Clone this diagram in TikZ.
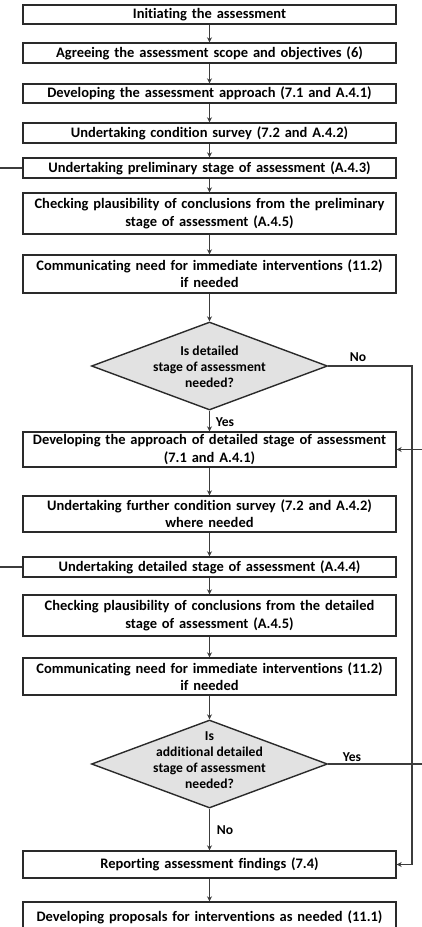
\documentclass[tikz,border=0pt]{standalone}
\usepackage{fontspec}
\setmainfont{Carlito}[Ligatures={NoCommon}]
\usetikzlibrary{shapes.geometric,arrows.meta}
\definecolor{boxline}{HTML}{2A2A2A}
\definecolor{flowline}{HTML}{3C3C3C}
\definecolor{askfill}{HTML}{E2E2E2}
\tikzset{
    box/.style={draw=boxline,line width=1.4pt,rectangle,align=center,text width=365pt,
        inner xsep=4pt,inner ysep=0pt,font=\fontsize{14.5}{17.3}\selectfont\bfseries},
    decision/.style={draw=boxline,line width=1.4pt,diamond,fill=askfill,aspect=2.68,
        inner sep=0pt,minimum width=236pt,minimum height=88pt},
    asktext/.style={align=center,inner sep=0pt,font=\fontsize{13.6}{16}\selectfont\bfseries},
    answer/.style={inner sep=0pt,font=\fontsize{13.6}{15}\selectfont\bfseries},
    flow/.style={draw=flowline,line width=1.5pt,-{Stealth[length=5pt,width=5pt]}},
    line/.style={draw=flowline,line width=1.5pt}
}
\begin{document}
\begin{tikzpicture}[x=1pt,y=-1pt]
        \useasboundingbox (0,0) rectangle (421,927);

        \node[box,minimum height=19pt] (init) at (209.5,14.5) {Initiating the assessment};
        \node[box,minimum height=20pt] (agree) at (209.5,53) {Agreeing the assessment scope and objectives (6)};
        \node[box,minimum height=19pt] (approach) at (209.5,93.5) {Developing the assessment approach (7.1 and A.4.1)};
        \node[box,minimum height=20pt] (survey) at (209.5,133) {Undertaking condition survey (7.2 and A.4.2)};
        \node[box,minimum height=20pt] (prelim) at (209.5,168) {Undertaking preliminary stage of assessment (A.4.3)};
        \node[box,minimum height=41pt] (checkprelim) at (209.5,213.5) {Checking plausibility of conclusions from the preliminary\\stage of assessment (A.4.5)};
        \node[box,minimum height=38pt] (commone) at (209.5,274) {Communicating need for immediate interventions (11.2)\\if needed};

        \node[decision] (askdetail) at (209.5,366) {};
        \node[asktext] (askdetailtxt) at (209.5,367) {Is detailed\\stage of assessment\\needed?};

        \node[box,minimum height=35pt] (detapproach) at (209.5,449.5) {Developing the approach of detailed stage of assessment\\(7.1 and A.4.1)};
        \node[box,minimum height=36pt] (further) at (209.5,514) {Undertaking further condition survey (7.2 and A.4.2)\\where needed};
        \node[box,minimum height=20pt] (detailed) at (209.5,567) {Undertaking detailed stage of assessment (A.4.4)};
        \node[box,minimum height=41pt] (checkdet) at (209.5,615.5) {Checking plausibility of conclusions from the detailed\\stage of assessment (A.4.5)};
        \node[box,minimum height=37pt] (commtwo) at (209.5,676.5) {Communicating need for immediate interventions (11.2)\\if needed};

        \node[decision] (askmore) at (209.5,764) {};
        \node[asktext] (askmoretxt) at (209.5,760) {Is\\additional detailed\\stage of assessment\\needed?};

        \node[box,minimum height=27pt] (report) at (209.5,864.5) {Reporting assessment findings (7.4)};
        \node[box,minimum height=30pt] (proposals) at (209.5,917) {Developing proposals for interventions as needed (11.1)};

        \draw[flow] (init) -- (agree);
        \draw[flow] (agree) -- (approach);
        \draw[flow] (approach) -- (survey);
        \draw[flow] (survey) -- (prelim);
        \draw[flow] (prelim) -- (checkprelim);
        \draw[flow] (checkprelim) -- (commone);
        \draw[flow] (commone) -- (askdetail);
        \draw[flow] (askdetail) -- (detapproach);
        \draw[flow] (detapproach) -- (further);
        \draw[flow] (further) -- (detailed);
        \draw[flow] (detailed) -- (checkdet);
        \draw[flow] (checkdet) -- (commtwo);
        \draw[flow] (commtwo) -- (askmore);
        \draw[flow] (askmore) -- (report);
        \draw[flow] (report) -- (proposals);

        \draw[flow] (askdetail.east) -- ++(84,0) |- (report.east);
        \draw[flow] (askmore.east) -- ++(110,0) |- (detapproach.east);

        \coordinate (backprelim) at (-10,168);
        \coordinate (backdetailed) at (-10,567);
        \draw[line] (backprelim) -- (prelim.west);
        \draw[line] (backdetailed) -- (detailed.west);

        \node[answer] (nolabel) at (358,357) {No};
        \node[answer] (yeslabel) at (225,422) {Yes};
        \node[answer] (yesmore) at (352,757) {Yes};
        \node[answer] (nomore) at (225,830) {No};
    \end{tikzpicture}
\end{document}
